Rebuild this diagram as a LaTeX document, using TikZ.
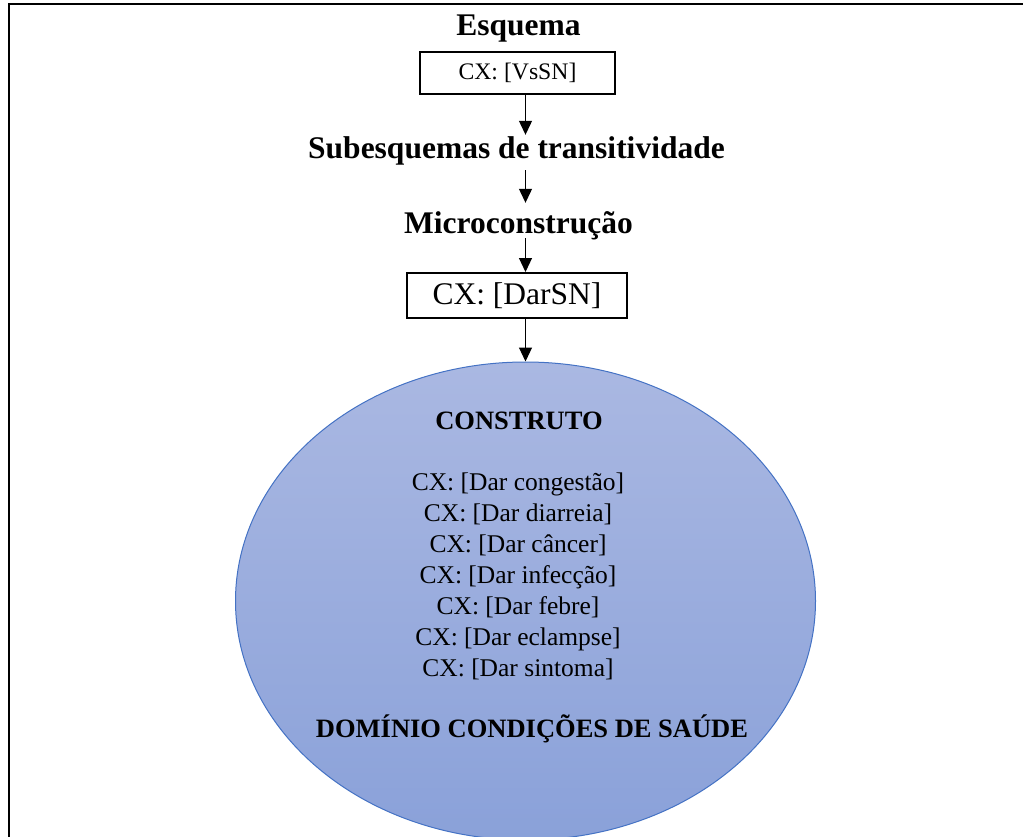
\documentclass[tikz,border=0pt]{standalone}
\usepackage{fontspec}
\setmainfont{Liberation Serif}
\usetikzlibrary{arrows.meta,positioning,shapes.geometric}
\definecolor{elltop}{HTML}{AAB8E2}
\definecolor{ellbot}{HTML}{8AA1D9}
\definecolor{ellline}{HTML}{4472C4}

\begin{document}
\begin{tikzpicture}[x=1pt,y=-1pt,
      head/.style={font=\fontsize{31.5}{36}\selectfont\bfseries,
                   inner sep=0pt,anchor=base,text height=22pt,text depth=5pt},
      cxbox/.style={rectangle,draw,line width=2pt,inner sep=0pt},
      arrow/.style={-{Triangle[length=14pt,width=13pt]},line width=1.2pt},
      ellbox/.style={ellipse,draw=ellline,line width=1pt,
                     top color=elltop,bottom color=ellbot,inner sep=0pt},
    ]
    \clip (0,0) rectangle (1023,836);

    % frame
    \draw[line width=2pt] (1040,4) -- (8.7,4) -- (8.7,850);

    % schema
    \node[head] (esquema) at (518.5,35) {Esquema};
    \node[cxbox,minimum width=195pt,minimum height=42pt,
          font=\fontsize{23.7}{28}\selectfont] (vssn) at (517.5,73) {CX: [VsSN]};

    % subschemas, microconstruction
    \node[head] (subesq) at (516.5,158) {Subesquemas de transitividade};
    \node[head] (micro)  at (518.5,233) {Microconstrução};
    \node[cxbox,minimum width=220pt,minimum height=45pt,
          font=\fontsize{31.5}{36}\selectfont] (darsn) at (517,295.5) {CX: [DarSN]};

    % construct
    \node[ellbox,minimum width=580pt,minimum height=478pt] (construto) at (525.5,601) {};
    \node[font=\fontsize{26.5}{31}\selectfont\bfseries,inner sep=0pt,anchor=base]
          (titulo) at (519,429) {CONSTRUTO};
    \node[font=\fontsize{25.5}{31}\selectfont,align=center,inner sep=0pt]
          (lista) at (518,576) {CX: [Dar congestão]\\CX: [Dar diarreia]\\CX: [Dar câncer]\\
          CX: [Dar infecção]\\CX: [Dar febre]\\CX: [Dar eclampse]\\CX: [Dar sintoma]};
    \node[font=\fontsize{26.5}{31}\selectfont\bfseries,inner sep=0pt,anchor=base]
          (dominio) at (532,737) {DOMÍNIO CONDIÇÕES DE SAÚDE};

    % arrows
    \draw[arrow,shorten >=1pt] (vssn.south -| construto.north) -- (subesq.north -| construto.north);
    \draw[arrow,shorten <=7pt,shorten >=8pt] (subesq.south -| construto.north) -- (micro.north -| construto.north);
    \draw[arrow] (micro.south -| construto.north) -- (darsn.north -| construto.north);
    \draw[arrow] (darsn.south -| construto.north) -- (construto.north);

  \end{tikzpicture}
\end{document}
